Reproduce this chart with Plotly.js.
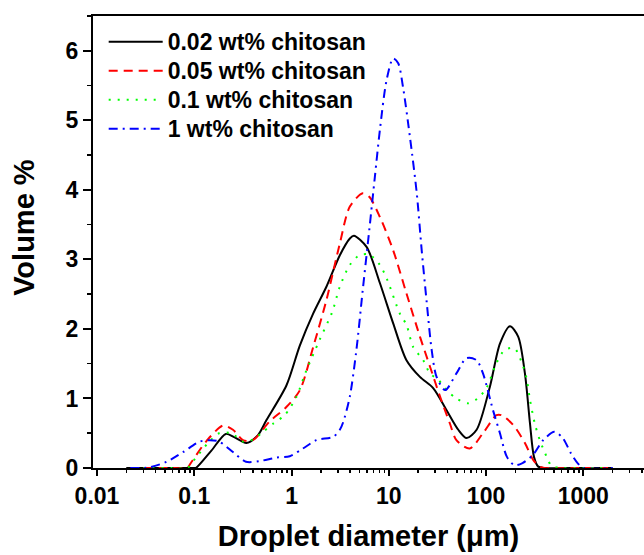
<!DOCTYPE html>
<html>
<head>
<meta charset="utf-8">
<script src="https://cdn.plot.ly/plotly-3.0.1.min.js"></script>
<style>html,body{margin:0;padding:0;background:#fff;}#chart{width:644px;height:555px;}</style>
</head>
<body>
<div id="chart"></div>
<script>
// Droplet diameter (µm) and volume % for each chitosan concentration
const x002 = [0.02, 0.05, 0.1, 0.104, 0.15, 0.211, 0.26, 0.344, 0.45, 0.553, 0.888, 1.217, 1.668, 2.29, 3.14, 3.98, 4.38, 5.91, 8.1, 11.1, 15.2, 20.9, 28.6, 39.3, 51.8, 63.1, 80, 109.6, 139, 176, 214, 251, 283, 311, 344, 400, 1000, 2000];
const y002 = [0, 0, 0, 0, 0.25, 0.49, 0.44, 0.36, 0.47, 0.69, 1.19, 1.76, 2.22, 2.61, 3.06, 3.30, 3.34, 3.18, 2.66, 2.08, 1.55, 1.31, 1.15, 0.83, 0.55, 0.43, 0.55, 1.17, 1.79, 2.04, 1.89, 1.36, 0.64, 0.16, 0.02, 0, 0, 0];

const x005 = [0.03, 0.06, 0.084, 0.094, 0.134, 0.198, 0.25, 0.317, 0.40, 0.596, 0.89, 1.22, 1.67, 2.29, 3.14, 3.98, 5.4, 6.3, 8.1, 11.1, 15.2, 20.9, 26.5, 33.6, 42.5, 49.6, 67.9, 93, 128, 144, 190, 251, 304, 357, 400, 1000, 1800];
const y005 = [0, 0, 0, 0.09, 0.39, 0.61, 0.55, 0.40, 0.40, 0.67, 0.88, 1.12, 1.74, 2.42, 3.23, 3.76, 3.95, 3.90, 3.61, 3.13, 2.51, 1.89, 1.46, 1.03, 0.64, 0.40, 0.28, 0.50, 0.76, 0.76, 0.62, 0.36, 0.12, 0.02, 0, 0, 0];

const x01 = [0.03, 0.06, 0.085, 0.095, 0.145, 0.18, 0.24, 0.317, 0.40, 0.51, 0.65, 0.85, 1.12, 1.40, 1.94, 2.63, 3.14, 3.98, 5.0, 6.3, 8.1, 9.5, 13.0, 15.2, 17.8, 22.6, 26.5, 32.3, 39.3, 49.6, 65.2, 82, 101, 128, 156, 196, 231, 259, 283, 317, 357, 386, 433, 470, 600, 1000, 1800];
const y01 = [0, 0, 0, 0.08, 0.39, 0.50, 0.50, 0.38, 0.41, 0.52, 0.64, 0.76, 1.02, 1.38, 1.84, 2.25, 2.61, 2.92, 3.06, 3.07, 2.92, 2.73, 2.22, 2.06, 1.74, 1.55, 1.36, 1.27, 1.12, 1.00, 0.93, 1.00, 1.15, 1.51, 1.70, 1.72, 1.53, 1.31, 0.98, 0.64, 0.40, 0.28, 0.12, 0.03, 0, 0, 0];

const x1 = [0.022, 0.030, 0.035, 0.052, 0.077, 0.114, 0.145, 0.18, 0.25, 0.34, 0.47, 0.70, 0.96, 1.31, 1.8, 2.7, 3.14, 3.4, 3.98, 4.65, 5.4, 6.3, 7.2, 8.1, 9.5, 11.1, 12.5, 14.0, 16.5, 19.4, 21.8, 24.6, 27.6, 31, 38, 49.6, 63, 80, 93, 118, 139, 164, 196, 237, 304, 386, 505, 615, 747, 873, 1000, 2000];
const y1 = [0, 0, 0.01, 0.09, 0.23, 0.38, 0.40, 0.38, 0.23, 0.09, 0.10, 0.15, 0.17, 0.28, 0.40, 0.45, 0.55, 0.66, 1.03, 1.70, 2.56, 3.42, 4.19, 4.86, 5.58, 5.89, 5.82, 5.48, 4.76, 3.95, 3.13, 2.37, 1.70, 1.31, 1.12, 1.36, 1.58, 1.55, 1.36, 0.83, 0.50, 0.16, 0.04, 0.07, 0.19, 0.40, 0.52, 0.43, 0.21, 0.07, 0, 0];

const seriesNames = ['0.02 wt% chitosan', '0.05 wt% chitosan', '0.1 wt% chitosan', '1 wt% chitosan'];
const xTickVals = [0.01, 0.1, 1, 10, 100, 1000];
const xTickText = ['0.01', '0.1', '1', '10', '100', '1000'];
const xTitle = 'Droplet diameter (\u03bcm)';
const yTitle = 'Volume %';

const FONT = 'Liberation Sans, Arial, Helvetica, sans-serif';
const legendName = s => '<span style="font-size:23px">' + s + '</span>';

const traces = [
  {x: x002, y: y002, name: legendName(seriesNames[0]), mode: 'lines',
   line: {color: '#000000', width: 2, shape: 'spline', smoothing: 0.8}},
  {x: x005, y: y005, name: legendName(seriesNames[1]), mode: 'lines',
   line: {color: '#ff0000', width: 2, shape: 'spline', smoothing: 0.8, dash: '9px,6px'}},
  {x: x01, y: y01, name: legendName(seriesNames[2]), mode: 'lines',
   line: {color: '#00ff00', width: 2, shape: 'spline', smoothing: 0.8, dash: '2px,7px'}},
  {x: x1, y: y1, name: legendName(seriesNames[3]), mode: 'lines',
   line: {color: '#0000ff', width: 2, shape: 'spline', smoothing: 0.8, dash: '9px,5px,2px,5px'}}
];

const layout = {
  width: 644, height: 555,
  margin: {l: 93, r: 0, t: 16, b: 87, pad: 0},
  paper_bgcolor: '#ffffff', plot_bgcolor: '#ffffff',
  font: {family: FONT, color: '#000', size: 22, weight: 'bold'},
  showlegend: true,
  legend: {x: 0.0194, y: 0.986, xanchor: 'left', yanchor: 'top', bgcolor: 'rgba(0,0,0,0)',
           borderwidth: 0, itemwidth: 54, tracegroupgap: 0,
           font: {family: FONT, size: 20, weight: 'bold', color: '#000'}},
  xaxis: {
    type: 'log', range: [-2.041, 3.624],
    tickmode: 'array', tickvals: xTickVals, ticktext: xTickText,
    ticks: 'outside', ticklen: 6, tickwidth: 2, tickcolor: '#000',
    minor: {ticks: 'outside', ticklen: 3, tickwidth: 1.5, tickcolor: '#000', dtick: 'D1'},
    showline: true, linewidth: 2, linecolor: '#000', mirror: true,
    showgrid: false, zeroline: false,
    tickfont: {family: FONT, size: 23, weight: 'bold', color: '#000'},
    title: {text: xTitle, standoff: 18,
            font: {family: FONT, size: 29, weight: 'bold', color: '#000'}}
  },
  yaxis: {
    range: [0, 6.5], dtick: 1, tick0: 0,
    ticks: 'outside', ticklen: 8, tickwidth: 2, tickcolor: '#000',
    minor: {ticks: 'outside', ticklen: 4, tickwidth: 1.5, tickcolor: '#000', dtick: 0.5},
    showline: true, linewidth: 2, linecolor: '#000', mirror: false,
    showgrid: false, zeroline: false,
    tickfont: {family: FONT, size: 23, weight: 'bold', color: '#000'},
    title: {text: ''}
  },
  annotations: [{
    text: yTitle, xref: 'paper', yref: 'paper', x: -0.1265, y: 0.532,
    xanchor: 'center', yanchor: 'middle', textangle: -90, showarrow: false,
    font: {family: FONT, size: 29, weight: 'bold', color: '#000'}
  }]
};

Plotly.newPlot('chart', traces, layout, {staticPlot: true, displayModeBar: false});
</script>
</body>
</html>
